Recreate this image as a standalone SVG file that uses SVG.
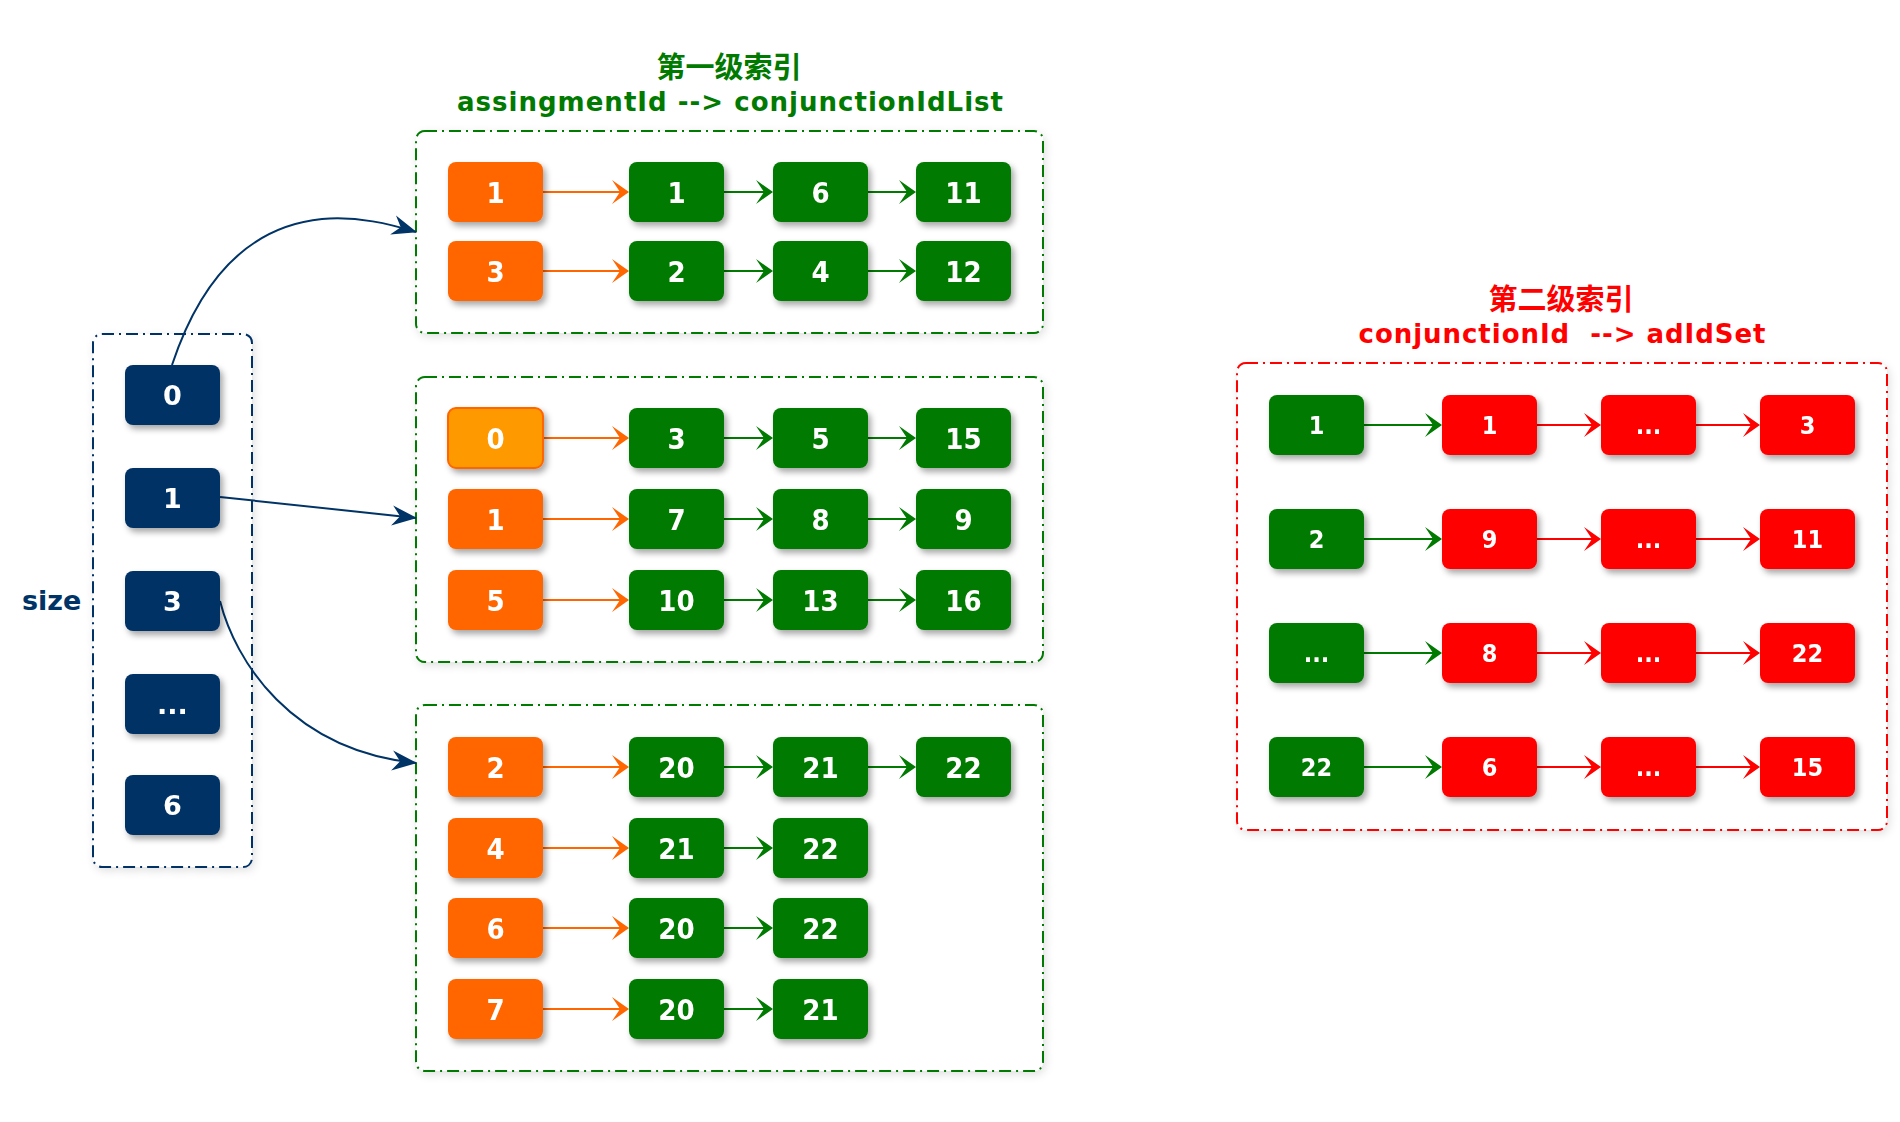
<svg xmlns="http://www.w3.org/2000/svg" width="1900" height="1122" viewBox="0 0 1900 1122">
<defs>
<filter id="sh" x="-20%" y="-20%" width="150%" height="160%">
<feDropShadow dx="3" dy="4" stdDeviation="3" flood-color="#000" flood-opacity="0.35"/>
</filter>
<filter id="csh" x="-10%" y="-10%" width="125%" height="125%">
<feDropShadow dx="2" dy="3" stdDeviation="4" flood-color="#000" flood-opacity="0.12"/>
</filter>
<marker id="aOr" viewBox="-12 -12 20 24" refX="0" refY="0" markerWidth="20" markerHeight="24" markerUnits="userSpaceOnUse" orient="auto">
<path d="M6,0 L-11,-12 L-3,0 L-11,12 Z" fill="#ff6600"/>
</marker>
<marker id="aGr" viewBox="-12 -12 20 24" refX="0" refY="0" markerWidth="20" markerHeight="24" markerUnits="userSpaceOnUse" orient="auto">
<path d="M6,0 L-11,-12 L-3,0 L-11,12 Z" fill="#007a00"/>
</marker>
<marker id="aRd" viewBox="-12 -12 20 24" refX="0" refY="0" markerWidth="20" markerHeight="24" markerUnits="userSpaceOnUse" orient="auto">
<path d="M6,0 L-11,-12 L-3,0 L-11,12 Z" fill="#ff0000"/>
</marker>
<marker id="aNv" viewBox="-26 -12 28 24" refX="0" refY="0" markerWidth="28" markerHeight="24" markerUnits="userSpaceOnUse" orient="auto">
<path d="M1,0 L-24,-10 L-16,0 L-24,10 Z" fill="#003366"/>
</marker>
</defs>
<style>
.box{filter:url(#sh)}
.or{fill:#ff6600}
.hl{fill:#ff9900;stroke:#ff6600;stroke-width:2}
.gr{fill:#007a00}
.rd{fill:#ff0000}
.nv{fill:#003366}
.t{font-family:"DejaVu Sans Condensed","DejaVu Sans",sans-serif;font-weight:bold;font-size:29px;fill:#fff;text-anchor:middle}
.ts{font-family:"DejaVu Sans Condensed","DejaVu Sans",sans-serif;font-weight:bold;font-size:25px;fill:#fff;text-anchor:middle}
.tn{font-family:"DejaVu Sans",sans-serif;font-weight:bold;font-size:27px;fill:#fff;text-anchor:middle}
.cont{fill:#fff;stroke-width:2;stroke-dasharray:12 5 2 5;filter:url(#csh)}
.title{font-family:"DejaVu Sans","Noto Sans CJK SC",sans-serif;font-weight:bold;text-anchor:middle}
.cjk{font-family:"Noto Sans CJK SC",sans-serif;font-weight:bold;font-size:29px;text-anchor:middle}
.ln{fill:none;stroke-width:2}
</style>
<rect width="1900" height="1122" fill="#fff"/>

<g id="title1">
<text class="cjk" x="729" y="78" fill="#007a00">第一级索引</text>
<text class="title" x="730" y="111" font-size="26" fill="#007a00" textLength="546" lengthAdjust="spacing">assingmentId --&gt; conjunctionIdList</text>
</g>
<g id="title2">
<text class="cjk" x="1561" y="310" fill="#ff0000">第二级索引</text>
<text class="title" x="1562" y="343" font-size="26" fill="#ff0000" xml:space="preserve" textLength="407" lengthAdjust="spacing">conjunctionId  --&gt; adIdSet</text>
</g>
<g id="sizeLabel">
<text x="22" y="610" font-family="DejaVu Sans, sans-serif" font-weight="bold" font-size="27" fill="#003366">size</text>
</g>

<g id="sizeList"><rect class="cont" x="93" y="334" width="159" height="533" rx="9" stroke="#003366"/></g>
<g id="level1-a"><rect class="cont" x="416" y="131" width="627" height="202" rx="9" stroke="#007a00"/></g>
<g id="level1-b"><rect class="cont" x="416" y="377" width="627" height="285" rx="9" stroke="#007a00"/></g>
<g id="level1-c"><rect class="cont" x="416" y="705" width="627" height="366" rx="9" stroke="#007a00"/></g>
<g id="level2"><rect class="cont" x="1237" y="363" width="650" height="467" rx="9" stroke="#ff0000"/></g>

<g id="connectors">
<path class="ln" stroke="#003366" stroke-width="2.5" d="M172,365 C192,305 232,228 322,219 C358,216 390,224 416,232" marker-end="url(#aNv)"/>
<path class="ln" stroke="#003366" stroke-width="2.5" d="M220,497 L416,518" marker-end="url(#aNv)"/>
<path class="ln" stroke="#003366" stroke-width="2.5" d="M220,601 C235,660 290,750 416,763" marker-end="url(#aNv)"/>

<g stroke="#ff6600" class="ln" marker-end="url(#aOr)">
<path d="M542,192 H623"/><path d="M542,271 H623"/>
<path d="M543,438 H623"/><path d="M542,519 H623"/><path d="M542,600 H623"/>
<path d="M542,767 H623"/><path d="M542,848 H623"/><path d="M542,928 H623"/><path d="M542,1009 H623"/>
</g>
<g stroke="#007a00" class="ln" marker-end="url(#aGr)">
<path d="M724,192 H767"/><path d="M868,192 H910"/>
<path d="M724,271 H767"/><path d="M868,271 H910"/>
<path d="M724,438 H767"/><path d="M868,438 H910"/>
<path d="M724,519 H767"/><path d="M868,519 H910"/>
<path d="M724,600 H767"/><path d="M868,600 H910"/>
<path d="M724,767 H767"/><path d="M868,767 H910"/>
<path d="M724,848 H767"/>
<path d="M724,928 H767"/>
<path d="M724,1009 H767"/>
<path d="M1364,425 H1436"/><path d="M1364,539 H1436"/><path d="M1364,653 H1436"/><path d="M1364,767 H1436"/>
</g>
<g stroke="#ff0000" class="ln" marker-end="url(#aRd)">
<path d="M1537,425 H1595"/><path d="M1696,425 H1754"/>
<path d="M1537,539 H1595"/><path d="M1696,539 H1754"/>
<path d="M1537,653 H1595"/><path d="M1696,653 H1754"/>
<path d="M1537,767 H1595"/><path d="M1696,767 H1754"/>
</g>
</g>

<g id="s0" class="box"><rect class="nv" x="125" y="365" width="95" height="60" rx="8"/><text class="tn" x="172.5" y="405">0</text></g>
<g id="s1" class="box"><rect class="nv" x="125" y="468" width="95" height="60" rx="8"/><text class="tn" x="172.5" y="508">1</text></g>
<g id="s3" class="box"><rect class="nv" x="125" y="571" width="95" height="60" rx="8"/><text class="tn" x="172.5" y="611">3</text></g>
<g id="sdots" class="box"><rect class="nv" x="125" y="674" width="95" height="60" rx="8"/><text class="tn" x="172.5" y="714">...</text></g>
<g id="s6" class="box"><rect class="nv" x="125" y="775" width="95" height="60" rx="8"/><text class="tn" x="172.5" y="815">6</text></g>

<g id="a1" class="box"><rect class="or" x="448" y="162" width="95" height="60" rx="8"/><text class="t" x="495.5" y="202.5">1</text></g>
<g id="a1c1" class="box"><rect class="gr" x="629" y="162" width="95" height="60" rx="8"/><text class="t" x="676.5" y="202.5">1</text></g>
<g id="a1c2" class="box"><rect class="gr" x="773" y="162" width="95" height="60" rx="8"/><text class="t" x="820.5" y="202.5">6</text></g>
<g id="a1c3" class="box"><rect class="gr" x="916" y="162" width="95" height="60" rx="8"/><text class="t" x="963.5" y="202.5">11</text></g>
<g id="a3" class="box"><rect class="or" x="448" y="241" width="95" height="60" rx="8"/><text class="t" x="495.5" y="281.5">3</text></g>
<g id="a3c1" class="box"><rect class="gr" x="629" y="241" width="95" height="60" rx="8"/><text class="t" x="676.5" y="281.5">2</text></g>
<g id="a3c2" class="box"><rect class="gr" x="773" y="241" width="95" height="60" rx="8"/><text class="t" x="820.5" y="281.5">4</text></g>
<g id="a3c3" class="box"><rect class="gr" x="916" y="241" width="95" height="60" rx="8"/><text class="t" x="963.5" y="281.5">12</text></g>

<g id="b0" class="box"><rect class="hl" x="448" y="408" width="95" height="60" rx="8"/><text class="t" x="495.5" y="448.5">0</text></g>
<g id="b0c1" class="box"><rect class="gr" x="629" y="408" width="95" height="60" rx="8"/><text class="t" x="676.5" y="448.5">3</text></g>
<g id="b0c2" class="box"><rect class="gr" x="773" y="408" width="95" height="60" rx="8"/><text class="t" x="820.5" y="448.5">5</text></g>
<g id="b0c3" class="box"><rect class="gr" x="916" y="408" width="95" height="60" rx="8"/><text class="t" x="963.5" y="448.5">15</text></g>
<g id="b1" class="box"><rect class="or" x="448" y="489" width="95" height="60" rx="8"/><text class="t" x="495.5" y="529.5">1</text></g>
<g id="b1c1" class="box"><rect class="gr" x="629" y="489" width="95" height="60" rx="8"/><text class="t" x="676.5" y="529.5">7</text></g>
<g id="b1c2" class="box"><rect class="gr" x="773" y="489" width="95" height="60" rx="8"/><text class="t" x="820.5" y="529.5">8</text></g>
<g id="b1c3" class="box"><rect class="gr" x="916" y="489" width="95" height="60" rx="8"/><text class="t" x="963.5" y="529.5">9</text></g>
<g id="b5" class="box"><rect class="or" x="448" y="570" width="95" height="60" rx="8"/><text class="t" x="495.5" y="610.5">5</text></g>
<g id="b5c1" class="box"><rect class="gr" x="629" y="570" width="95" height="60" rx="8"/><text class="t" x="676.5" y="610.5">10</text></g>
<g id="b5c2" class="box"><rect class="gr" x="773" y="570" width="95" height="60" rx="8"/><text class="t" x="820.5" y="610.5">13</text></g>
<g id="b5c3" class="box"><rect class="gr" x="916" y="570" width="95" height="60" rx="8"/><text class="t" x="963.5" y="610.5">16</text></g>

<g id="c2" class="box"><rect class="or" x="448" y="737" width="95" height="60" rx="8"/><text class="t" x="495.5" y="777.5">2</text></g>
<g id="c2c1" class="box"><rect class="gr" x="629" y="737" width="95" height="60" rx="8"/><text class="t" x="676.5" y="777.5">20</text></g>
<g id="c2c2" class="box"><rect class="gr" x="773" y="737" width="95" height="60" rx="8"/><text class="t" x="820.5" y="777.5">21</text></g>
<g id="c2c3" class="box"><rect class="gr" x="916" y="737" width="95" height="60" rx="8"/><text class="t" x="963.5" y="777.5">22</text></g>
<g id="c4" class="box"><rect class="or" x="448" y="818" width="95" height="60" rx="8"/><text class="t" x="495.5" y="858.5">4</text></g>
<g id="c4c1" class="box"><rect class="gr" x="629" y="818" width="95" height="60" rx="8"/><text class="t" x="676.5" y="858.5">21</text></g>
<g id="c4c2" class="box"><rect class="gr" x="773" y="818" width="95" height="60" rx="8"/><text class="t" x="820.5" y="858.5">22</text></g>
<g id="c6" class="box"><rect class="or" x="448" y="898" width="95" height="60" rx="8"/><text class="t" x="495.5" y="938.5">6</text></g>
<g id="c6c1" class="box"><rect class="gr" x="629" y="898" width="95" height="60" rx="8"/><text class="t" x="676.5" y="938.5">20</text></g>
<g id="c6c2" class="box"><rect class="gr" x="773" y="898" width="95" height="60" rx="8"/><text class="t" x="820.5" y="938.5">22</text></g>
<g id="c7" class="box"><rect class="or" x="448" y="979" width="95" height="60" rx="8"/><text class="t" x="495.5" y="1019.5">7</text></g>
<g id="c7c1" class="box"><rect class="gr" x="629" y="979" width="95" height="60" rx="8"/><text class="t" x="676.5" y="1019.5">20</text></g>
<g id="c7c2" class="box"><rect class="gr" x="773" y="979" width="95" height="60" rx="8"/><text class="t" x="820.5" y="1019.5">21</text></g>

<g id="r1" class="box"><rect class="gr" x="1269" y="395" width="95" height="60" rx="8"/><text class="ts" x="1316.5" y="434">1</text></g>
<g id="r1a" class="box"><rect class="rd" x="1442" y="395" width="95" height="60" rx="8"/><text class="ts" x="1489.5" y="434">1</text></g>
<g id="r1b" class="box"><rect class="rd" x="1601" y="395" width="95" height="60" rx="8"/><text class="ts" x="1648.5" y="434">...</text></g>
<g id="r1c" class="box"><rect class="rd" x="1760" y="395" width="95" height="60" rx="8"/><text class="ts" x="1807.5" y="434">3</text></g>
<g id="r2" class="box"><rect class="gr" x="1269" y="509" width="95" height="60" rx="8"/><text class="ts" x="1316.5" y="548">2</text></g>
<g id="r2a" class="box"><rect class="rd" x="1442" y="509" width="95" height="60" rx="8"/><text class="ts" x="1489.5" y="548">9</text></g>
<g id="r2b" class="box"><rect class="rd" x="1601" y="509" width="95" height="60" rx="8"/><text class="ts" x="1648.5" y="548">...</text></g>
<g id="r2c" class="box"><rect class="rd" x="1760" y="509" width="95" height="60" rx="8"/><text class="ts" x="1807.5" y="548">11</text></g>
<g id="r3" class="box"><rect class="gr" x="1269" y="623" width="95" height="60" rx="8"/><text class="ts" x="1316.5" y="662">...</text></g>
<g id="r3a" class="box"><rect class="rd" x="1442" y="623" width="95" height="60" rx="8"/><text class="ts" x="1489.5" y="662">8</text></g>
<g id="r3b" class="box"><rect class="rd" x="1601" y="623" width="95" height="60" rx="8"/><text class="ts" x="1648.5" y="662">...</text></g>
<g id="r3c" class="box"><rect class="rd" x="1760" y="623" width="95" height="60" rx="8"/><text class="ts" x="1807.5" y="662">22</text></g>
<g id="r4" class="box"><rect class="gr" x="1269" y="737" width="95" height="60" rx="8"/><text class="ts" x="1316.5" y="776">22</text></g>
<g id="r4a" class="box"><rect class="rd" x="1442" y="737" width="95" height="60" rx="8"/><text class="ts" x="1489.5" y="776">6</text></g>
<g id="r4b" class="box"><rect class="rd" x="1601" y="737" width="95" height="60" rx="8"/><text class="ts" x="1648.5" y="776">...</text></g>
<g id="r4c" class="box"><rect class="rd" x="1760" y="737" width="95" height="60" rx="8"/><text class="ts" x="1807.5" y="776">15</text></g>
</svg>
